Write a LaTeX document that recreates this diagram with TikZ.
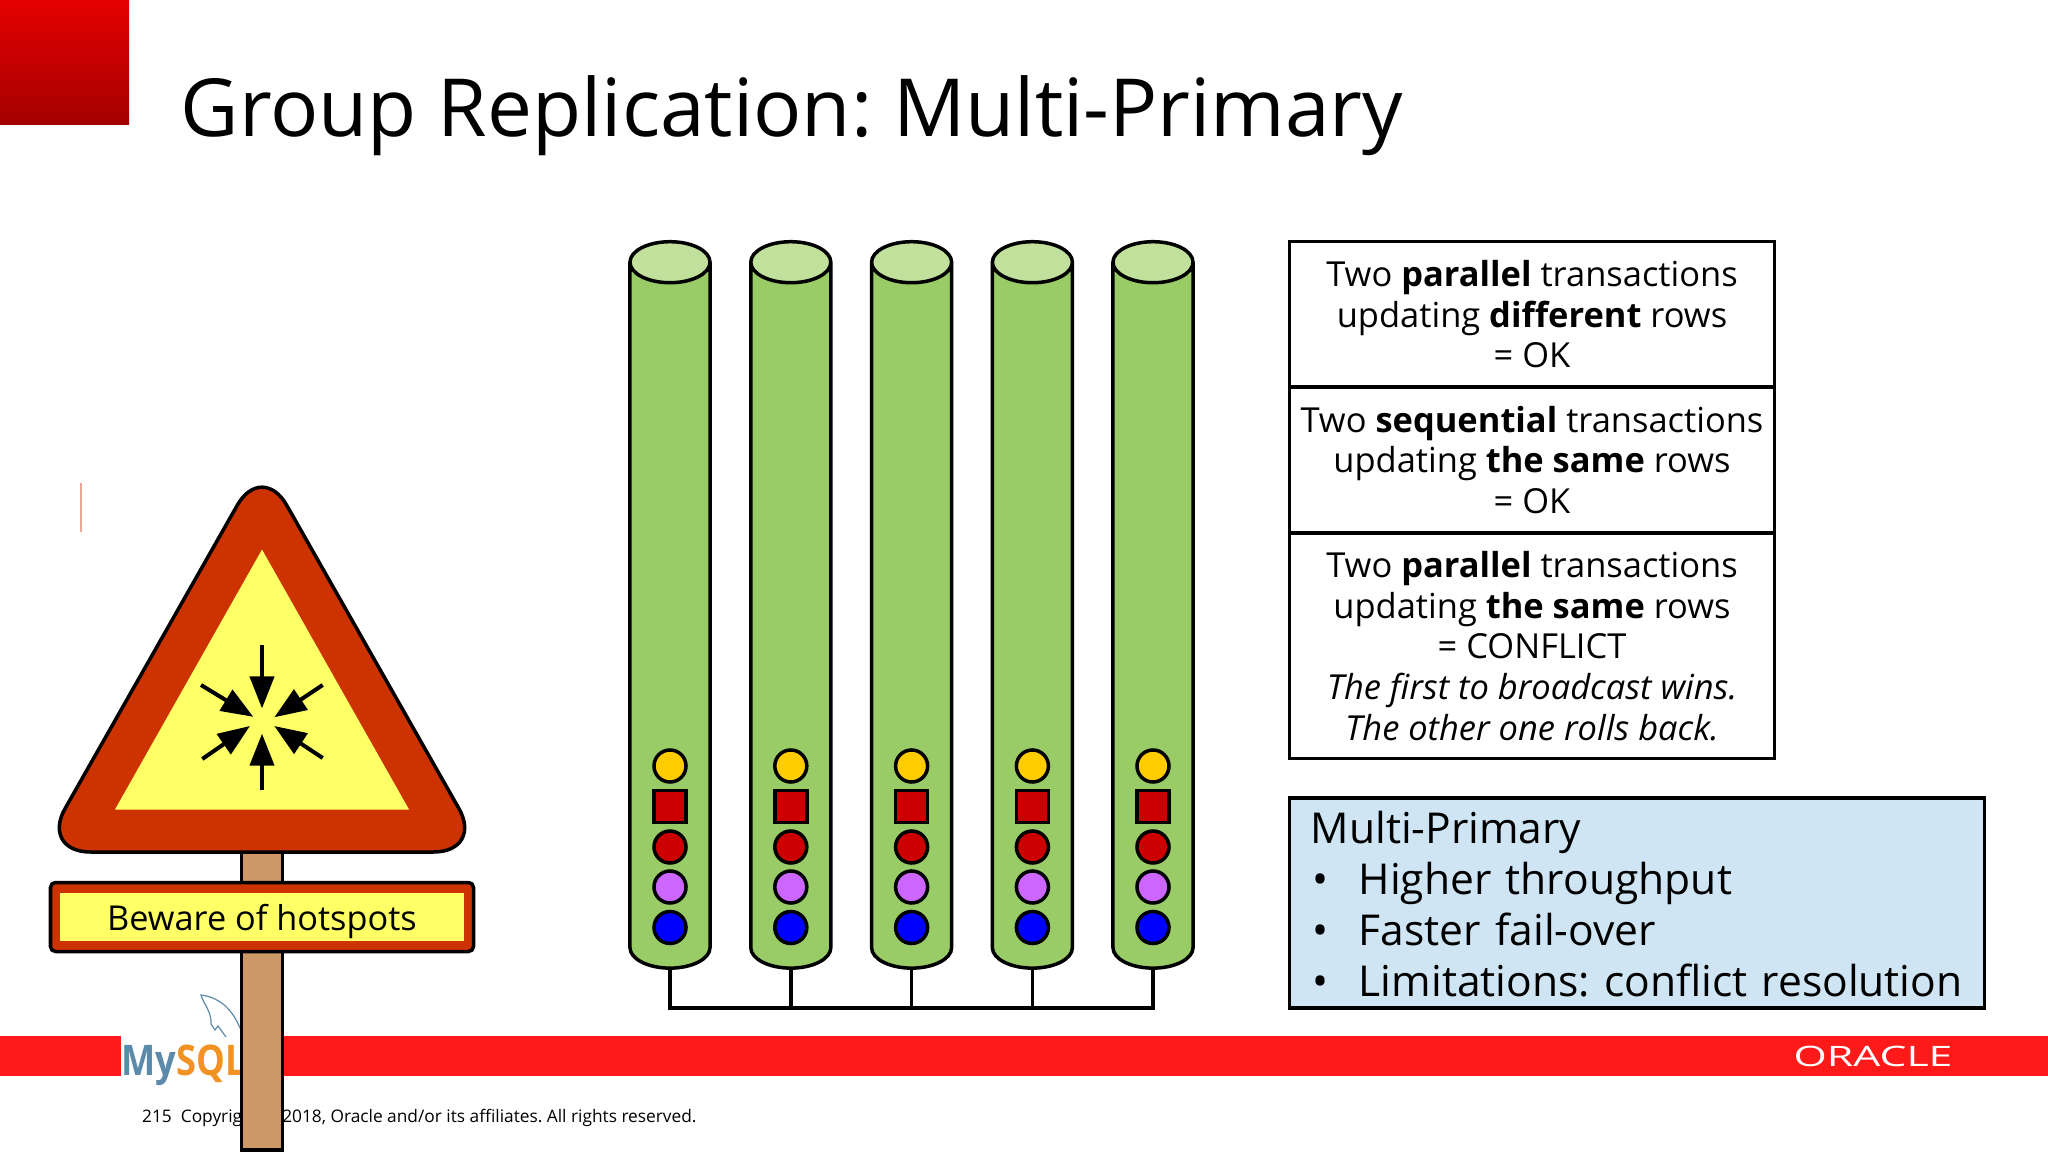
\documentclass[tikz,border=0pt]{standalone}
\usepackage{fontspec}
\setmainfont{Open Sans}
\usetikzlibrary{shapes.geometric,arrows.meta}
\definecolor{barred}{HTML}{FF1A1A}
\definecolor{signred}{HTML}{CC3300}
\definecolor{signyellow}{HTML}{FFFF66}
\definecolor{postbrown}{HTML}{CC9966}
\definecolor{bodygreen}{HTML}{99CC66}
\definecolor{endgreen}{HTML}{C0E09C}
\definecolor{txyellow}{HTML}{FFCC00}
\definecolor{txred}{HTML}{CC0000}
\definecolor{txpurple}{HTML}{CC66FF}
\definecolor{txblue}{HTML}{0000FF}
\definecolor{notebblue}{HTML}{CFE5F4}
\definecolor{dolphin}{HTML}{5B8AAA}
\definecolor{sqlorange}{HTML}{F29222}
\newcommand{\listdot}{\makebox[0.48cm][l]{\hspace{0.02cm}•}}
\tikzset{
  heavy/.style={draw=black, line width=0.035cm},
  server/.style={heavy, cylinder, shape border rotate=90, shape aspect=1, minimum width=0.8cm, minimum height=7.26cm, inner sep=0.205cm, outer sep=0pt, cylinder uses custom fill, cylinder body fill=bodygreen, cylinder end fill=endgreen},
  tx/.style={circle, heavy, minimum size=0.32cm, inner sep=0pt},
  txsquare/.style={rectangle, heavy, minimum size=0.32cm, inner sep=0pt, fill=txred},
  rulebox/.style={rectangle, heavy, minimum width=4.85cm, align=center, inner sep=0pt, font=\fontsize{9.8}{11.6}\selectfont, execute at begin node={\rule{0pt}{0.32cm}}},
  squeeze/.style={-{Triangle[length=0.32cm, width=0.24cm]}, line width=0.04cm},
}
\begin{document}
\frenchspacing
\begin{tikzpicture}[x=0.01cm, y=-0.01cm]
\useasboundingbox (0,0) rectangle (2048,1152);
% slide furniture
\shade[top color=red!90!black, bottom color=txred!80!black] (0,0) rectangle (129,125);
\fill[barred] (0,1036) rectangle (120.6,1076);
\fill[barred] (284,1036) rectangle (2048,1076);
\node[anchor=base west, inner sep=0pt] (title) at (180,137) {\fontsize{22.8}{26}\selectfont Group Replication: Multi-Primary};
\draw[red!40!brown!50, line width=0.015cm] (81,483) -- (81,532);
\node[anchor=base west, transform shape, xscale=0.86, inner sep=0pt, font=\fontsize{12}{14}\selectfont\bfseries] (mysql) at (121,1075) {\textcolor{dolphin}{My}\textcolor{sqlorange}{SQL}};
\draw[dolphin, line width=0.012cm] (240,1028) .. controls (232,1008) and (218,997) .. (201,995) .. controls (203,1003) and (212,1012) .. (211,1024) -- (215,1030) -- (218,1026) -- (226,1037);
\node[anchor=base, transform shape, xscale=1.52, text=white, inner sep=0pt, font=\fontsize{8}{10}\selectfont] (oracle) at (1873,1066) {ORACLE};
\node[anchor=base west, inner sep=0pt, font=\fontsize{4.92}{6}\selectfont] (copyright) at (141.5,1122.5) {215\ \ Copyright © 2018, Oracle and/or its affiliates. All rights reserved.};
% warning sign
\draw[heavy, fill=postbrown] (241.7,840) rectangle (282.3,1150);
\draw[heavy, fill=signred, rounded corners=0.5cm] (262,461.7) -- (483.6,852) -- (40.4,852) -- cycle;
\fill[signyellow] (262,549.6) -- (409,809.5) -- (115,809.5) -- cycle;
\draw[squeeze] (262,645) -- (262,708.5);
\draw[squeeze] (262,790) -- (262,733.6);
\draw[squeeze] (201,685) -- (253.3,716.8);
\draw[squeeze] (322.7,685) -- (274.3,717.3);
\draw[squeeze] (202.3,759) -- (250,726);
\draw[squeeze] (322.7,758) -- (274.3,726);
\draw[heavy, fill=signred, rounded corners=0.05cm] (50.5,882.5) rectangle (473.5,951.5);
\fill[signyellow] (60,893) rectangle (464,941);
\node[anchor=base, inner sep=0pt, font=\fontsize{9.75}{11}\selectfont] (beware) at (262,930.5) {Beware of hotspots};
% servers
\node[server] (C1) at (670,625) {};
\node[server] (C2) at (790.8,625) {};
\node[server] (C3) at (911.6,625) {};
\node[server] (C4) at (1032.4,625) {};
\node[server] (C5) at (1153,625) {};
\node[tx, fill=txyellow] (Y1) at (670,766) {};
\node[txsquare] (S1) at (670,806.5) {};
\node[tx, fill=txred] (R1) at (670,847) {};
\node[tx, fill=txpurple] (P1) at (670,887) {};
\node[tx, fill=txblue] (B1) at (670,927.5) {};
\node[tx, fill=txyellow] (Y2) at (790.8,766) {};
\node[txsquare] (S2) at (790.8,806.5) {};
\node[tx, fill=txred] (R2) at (790.8,847) {};
\node[tx, fill=txpurple] (P2) at (790.8,887) {};
\node[tx, fill=txblue] (B2) at (790.8,927.5) {};
\node[tx, fill=txyellow] (Y3) at (911.6,766) {};
\node[txsquare] (S3) at (911.6,806.5) {};
\node[tx, fill=txred] (R3) at (911.6,847) {};
\node[tx, fill=txpurple] (P3) at (911.6,887) {};
\node[tx, fill=txblue] (B3) at (911.6,927.5) {};
\node[tx, fill=txyellow] (Y4) at (1032.4,766) {};
\node[txsquare] (S4) at (1032.4,806.5) {};
\node[tx, fill=txred] (R4) at (1032.4,847) {};
\node[tx, fill=txpurple] (P4) at (1032.4,887) {};
\node[tx, fill=txblue] (B4) at (1032.4,927.5) {};
\node[tx, fill=txyellow] (Y5) at (1153,766) {};
\node[txsquare] (S5) at (1153,806.5) {};
\node[tx, fill=txred] (R5) at (1153,847) {};
\node[tx, fill=txpurple] (P5) at (1153,887) {};
\node[tx, fill=txblue] (B5) at (1153,927.5) {};
% network below the servers
\coordinate (N1) at (670,1008);
\coordinate (N2) at (790.8,1008);
\coordinate (N3) at (911.6,1008);
\coordinate (N4) at (1032.4,1008);
\coordinate (N5) at (1153,1008);
\draw[heavy] (C1.bottom) -- (N1) -- (N5) -- (C5.bottom);
\draw[heavy] (C2.bottom) -- (N2);
\draw[heavy] (C3.bottom) -- (N3);
\draw[heavy] (C4.bottom) -- (N4);
% notes
\node[rulebox, minimum height=1.455cm] (diff) at (1532,314.2) {Two \textbf{parallel} transactions\\updating \textbf{different} rows\\= OK};
\node[rulebox, minimum height=1.46cm] (seq) at (1532,460) {Two \textbf{sequential} transactions\\updating \textbf{the same} rows\\= OK};
\node[rulebox, minimum height=2.25cm] (same) at (1532,646) {Two \textbf{parallel} transactions\\updating \textbf{the same} rows\\= CONFLICT\\\textit{The first to broadcast wins.}\\\textit{The other one rolls back.}};
\node[rectangle, heavy, fill=notebblue, minimum width=6.95cm, minimum height=2.1cm, text width=6.52cm, inner sep=0pt, align=left, font=\fontsize{12.1}{14.5}\selectfont, execute at begin node={\rule{0pt}{0.34cm}}] (multi) at (1637,903) {Multi-Primary\\\listdot Higher throughput\\\listdot Faster fail-over\\\listdot Limitations: conflict resolution};
\end{tikzpicture}
\end{document}
